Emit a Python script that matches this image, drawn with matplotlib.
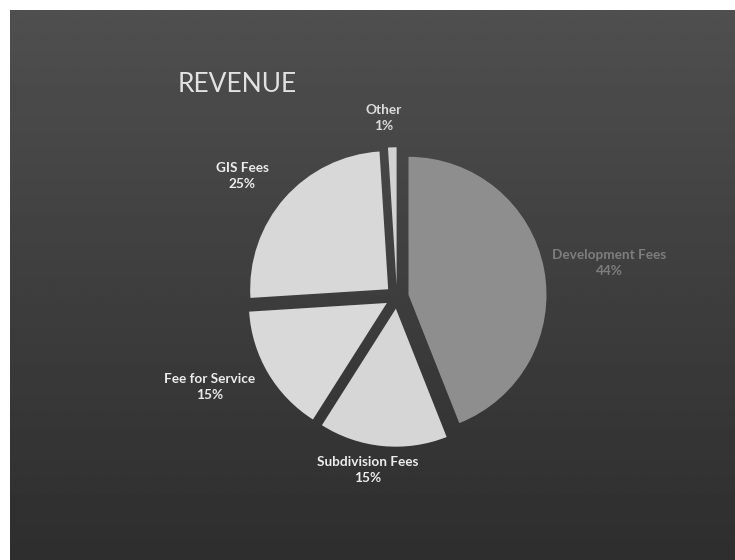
import numpy as np
import matplotlib.pyplot as plt

# Revenue breakdown
categories = ['Development Fees', 'Subdivision Fees', 'Fee for Service', 'GIS Fees', 'Other']
shares = [44, 15, 15, 25, 1]
slice_colors = ['#8e8e8e', '#d6d6d6', '#d9d9d9', '#d8d8d8', '#d2d2d2']
label_colors = ['#7d7d7d', '#ececec', '#ececec', '#ececec', '#dcdcdc']
# label anchor points (pie data units)
label_pos = [(1.54, 0.25), (-0.21, -1.25), (-1.36, -0.65), (-1.12, 0.88), (-0.10, 1.30)]

W, H = 735, 560
fig = plt.figure(figsize=(W / 100, H / 100), dpi=100, facecolor='white')

# dark slide background, slightly darker toward the bottom
bg = fig.add_axes([10 / W, 0, 1 - 10 / W, 1 - 10 / H])
shade = np.linspace(0.31, 0.18, 200)[:, None] * np.ones((1, 50))
bg.imshow(shade, cmap='gray', vmin=0, vmax=1, aspect='auto', extent=[0, 1, 0, 1])
bg.set_axis_off()

fig.text(178 / W, 1 - 84 / H, 'REVENUE', color='#e2e2e2', fontsize=19,
         family='Lato', va='center', ha='left')

ax = fig.add_axes([0.3054, 0.1616, 345 / W, 345 / H])
wedges, _ = ax.pie(shares, colors=slice_colors, startangle=90, counterclock=False,
                   explode=[0.085] * len(shares),
                   wedgeprops=dict(linewidth=0))
ax.set_xlim(-1.25, 1.25)
ax.set_ylim(-1.25, 1.25)
ax.set_aspect('equal')

for name, val, (x, y), c in zip(categories, shares, label_pos, label_colors):
    ax.text(x, y, f'{name}\n{val}%', ha='center', va='center', color=c,
            fontsize=9.8, fontweight='bold', family='Lato', linespacing=1.4)

fig.savefig('out.png', dpi=100, facecolor='white')
